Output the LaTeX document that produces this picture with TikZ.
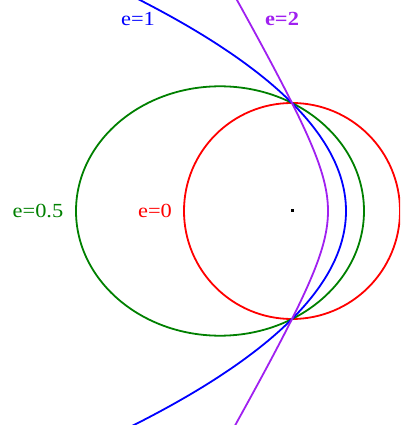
\documentclass[tikz,border=0pt]{standalone}
\usepackage{fontspec}
\setmainfont{Liberation Serif}
\newfontfamily\labelfont[FakeStretch=1.12]{Liberation Serif}
\usepackage{xcolor}
\definecolor{circlered}{HTML}{FF0000}
\definecolor{ellipsegreen}{HTML}{008000}
\definecolor{parabolablue}{HTML}{0000FF}
\definecolor{hyperpurple}{HTML}{A020F0}
\tikzset{
  conic/.style={line width=1.8pt},
  elabel/.style={font=\labelfont\fontsize{20}{20}\selectfont, inner sep=0pt},
  focusdot/.style={fill=black, minimum size=3pt, inner sep=0pt}
}

\begin{document}
\begin{tikzpicture}[x=10pt,y=10pt]
    % frame of the picture, focus at the origin, semi-latus rectum 10.8
    \useasboundingbox (-29.2,-21.4) rectangle (10.8,21.1);
    \clip (-29.2,-21.4) rectangle (10.8,21.1);

    % e=0, circle
    \draw[conic,circlered] (0,0) circle [radius=10.8];

    % e=0.5, ellipse
    \draw[conic,ellipsegreen] (-7.2,0) ellipse [x radius=14.4, y radius=12.47];

    % e=1, parabola
    \draw[conic,parabolablue,domain=-23:23,samples=120,variable=\t]
        plot ({5.4 - \t*\t/21.6}, \t);

    % e=2, near branch of the hyperbola
    \draw[conic,hyperpurple,domain=-23:23,samples=120,variable=\t]
        plot ({(21.6 - sqrt(116.64 + 3*\t*\t))/3}, \t);

    % focus
    \node[focusdot] (focus) at (0,0) {};

    % labels
    \node[elabel,text=parabolablue] (lblone) at (-15.4,19.2) {e=1};
    \node[elabel,text=hyperpurple,font=\labelfont\fontsize{20}{20}\selectfont\bfseries] (lbltwo) at (-1.0,19.2) {e=2};
    \node[elabel,text=ellipsegreen] (lblhalf) at (-25.4,0) {e=0.5};
    \node[elabel,text=circlered] (lblzero) at (-13.7,0) {e=0};
\end{tikzpicture}
\end{document}
